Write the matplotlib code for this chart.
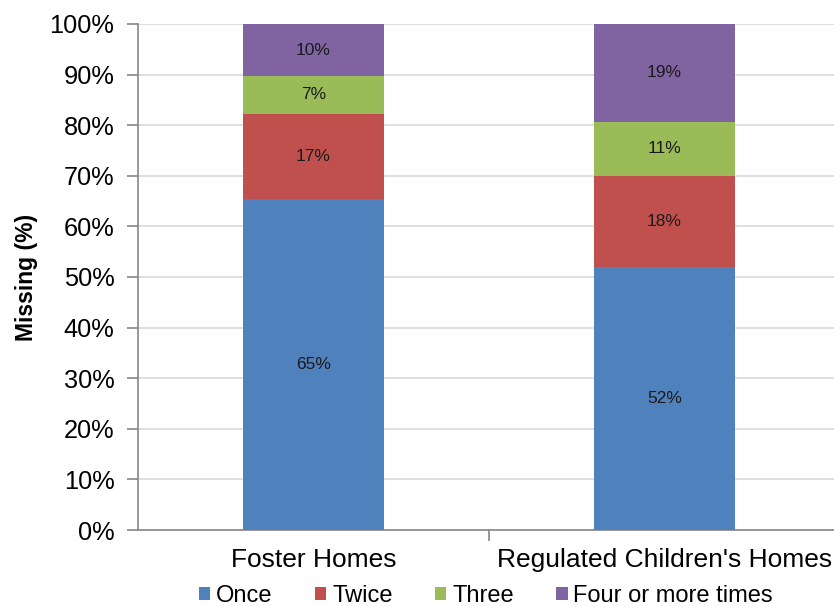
import matplotlib
matplotlib.use("Agg")
import matplotlib.pyplot as plt
import numpy as np

plt.rcParams['font.family'] = ['Liberation Sans', 'DejaVu Sans']

categories = ["Foster Homes", "Regulated Children's Homes"]
series_names = ["Once", "Twice", "Three", "Four or more times"]
once = [65.4, 52.0]
twice = [16.9, 17.9]
three = [7.4, 10.8]
four_plus = [10.3, 19.3]
labels = [["65%", "52%"], ["17%", "18%"], ["7%", "11%"], ["10%", "19%"]]
colors = ["#4F81BD", "#C0504D", "#9BBB59", "#8064A2"]
yticks = [0, 10, 20, 30, 40, 50, 60, 70, 80, 90, 100]

fig = plt.figure(figsize=(8.34, 6.07), dpi=100)
ax = fig.add_axes([138/834, 1 - 530/607, 702/834, 506/607])

x = np.arange(len(categories))
bottom = np.zeros(len(categories))
for vals, name, col, labs in zip([once, twice, three, four_plus], series_names, colors, labels):
    vals = np.array(vals)
    ax.bar(x, vals, 0.4, bottom=bottom, color=col, label=name, zorder=3)
    for xi, b, v, lab in zip(x, bottom, vals, labs):
        ax.text(xi, b + v / 2, lab, ha='center', va='center', fontsize=12.5, color='#1a1a1a', zorder=4)
    bottom += vals

ax.set_xlim(-0.5, 1.5)
ax.set_ylim(0, 100)
ax.set_yticks(yticks)
ax.set_yticklabels([f"{t}%" for t in yticks], fontsize=18.3)
ax.yaxis.grid(True, color='#D9D9D9', linewidth=1.2, zorder=0)
ax.set_axisbelow(True)

ax.set_xticks(x)
ax.set_xticklabels(categories, fontsize=19)
ax.set_xticks([0.5], minor=True)
ax.tick_params(axis='x', which='major', length=0, pad=13)
ax.tick_params(axis='x', which='minor', length=8, color='#868686', width=1.2)
ax.tick_params(axis='y', length=8, color='#868686', width=1.2, pad=9)

for s in ['top', 'right']:
    ax.spines[s].set_visible(False)
for s in ['left', 'bottom']:
    ax.spines[s].set_color('#868686')
    ax.spines[s].set_linewidth(1.2)

ax.set_ylabel("Missing (%)", fontsize=16.5, fontweight='bold', labelpad=8)

fig.legend(loc='center', bbox_to_anchor=(0.583, 0.0175), ncol=4, frameon=False,
           fontsize=17, handlelength=0.47, handleheight=0.47, handletextpad=0.25,
           columnspacing=1.8, borderpad=0)

fig.savefig("out.png", dpi=100)
